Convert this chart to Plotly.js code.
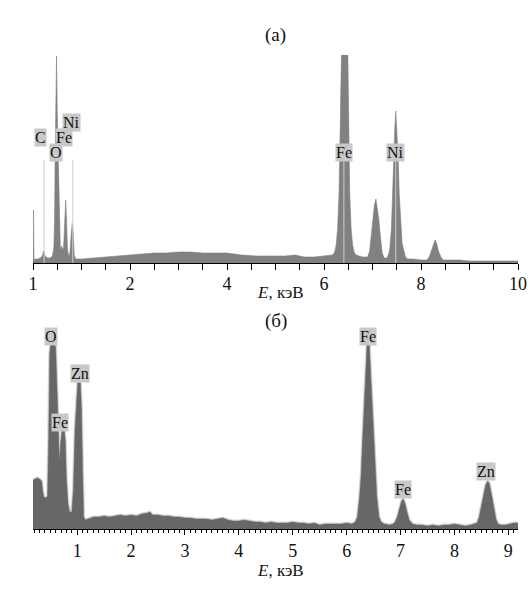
<!DOCTYPE html>
<html>
<head>
<meta charset="utf-8">
<script src="https://cdn.plot.ly/plotly-3.0.1.min.js"></script>
<style>html,body{margin:0;padding:0;background:#fff;}#chart{width:532px;height:593px;}</style>
</head>
<body>
<div id="chart"></div>
<script>
// ---- Panel (a): energy (keV) and counts (arb. units) ----
const energyA = [0.00,0.01,0.02,0.05,0.10,0.15,0.19,0.22,0.25,0.30,0.35,0.40,0.43,0.445,0.455,0.47,0.485,0.50,0.52,0.535,0.55,0.565,0.59,0.61,0.63,0.65,0.675,0.69,0.71,0.735,0.76,0.79,0.81,0.83,0.85,0.88,0.95,
  1.00,1.25,1.50,1.75,2.00,2.25,2.50,2.75,3.00,3.25,3.50,3.75,4.00,4.30,4.60,5.00,5.20,5.40,5.50,5.60,5.80,6.00,6.10,
  6.18,6.22,6.25,6.28,6.31,6.33,6.35,6.38,6.42,6.46,6.49,6.51,6.53,6.56,6.59,6.62,6.66,6.72,6.80,6.87,
  6.90,6.94,6.98,7.01,7.04,7.07,7.10,7.13,7.16,7.20,7.24,
  7.30,7.34,7.36,7.39,7.41,7.43,7.46,7.48,7.50,7.53,7.55,7.58,7.61,7.64,7.68,7.72,7.85,8.00,
  8.12,8.17,8.22,8.26,8.29,8.32,8.36,8.41,8.46,8.60,8.80,9.00,9.30,9.60,10.00];
const countsA = [3,53,3,4,4,5,7,12,7,5,5,7,15,45,100,140,207,150,110,80,25,12,17,14,15,40,63,45,15,6,10,30,40,30,8,4,4,
  4,5,6,7,8,9,10,10,11,11,10,10,10,8,7,7,7,8,7,6,6,7,7,
  8,11,18,34,70,125,215,330,380,330,215,125,70,34,18,11,8,7,6,6,
  6,12,32,48,58,64,56,44,28,10,5,
  5,10,16,35,65,105,135,152,135,105,70,38,20,14,6,4,4,3,
  3,6,13,20,23,20,12,6,3,3,3,2,2,2,2];

// KLM marker lines in panel (a)
const markerEnergyA = [0.23, 0.82, 6.41, 7.48];
const markerTopA = [103, 103, 103, 103];

// ---- Panel (б) ----
const energyB = [0.18,0.22,0.26,0.30,0.34,0.36,0.38,0.42,0.45,0.47,0.49,0.51,0.56,0.60,0.62,0.63,0.65,0.67,0.69,0.72,0.76,0.78,0.80,0.83,0.86,0.90,0.93,0.96,0.99,1.01,1.06,1.08,1.10,1.12,1.15,
  1.20,1.30,1.40,1.50,1.60,1.70,1.80,1.90,2.00,2.10,2.20,2.30,2.35,2.40,2.50,2.60,2.70,2.80,2.90,3.00,3.10,3.20,3.30,3.40,3.50,3.60,3.70,3.80,3.90,4.00,4.10,4.20,4.30,4.40,4.50,4.60,4.70,4.80,4.90,5.00,5.10,5.20,5.30,5.40,5.50,5.60,5.70,5.80,5.90,6.00,6.10,
  6.16,6.20,6.24,6.27,6.29,6.32,6.34,6.36,6.38,6.42,6.44,6.46,6.48,6.51,6.53,6.56,6.60,6.64,6.70,6.80,6.86,
  6.90,6.94,6.98,7.02,7.05,7.08,7.12,7.16,7.22,7.30,7.40,7.50,7.60,7.70,7.80,7.90,8.00,8.10,8.20,8.30,8.38,
  8.42,8.46,8.50,8.54,8.58,8.62,8.65,8.69,8.73,8.77,8.81,8.86,8.95,9.05,9.10,9.18];
const countsB = [49,50,51,50,48,38,32,31,33,90,175,186,186,182,140,116,100,66,85,99,99,88,50,25,17,17,40,100,135,146,146,120,60,12,9,
  10,12,12,13,12,13,14,13,14,13,15,16,17,14,14,13,13,12,12,11,11,10,10,10,9,10,11,9,8,8,9,8,7,7,6,7,6,6,6,7,6,6,5,6,4,5,5,5,5,6,5,
  7,12,32,55,82,119,140,152,186,186,152,140,119,82,55,32,12,7,5,4,5,
  7,12,20,28,30,26,17,9,5,4,4,3,4,3,4,4,5,4,3,4,5,
  6,12,22,34,44,48,45,34,20,10,5,4,4,5,6,6];

const tickValsA = [0,2,4,6,8,10];
const tickTextA = ['1','2','4','6','8','10'];

const serif = '"Liberation Serif", "Times New Roman", "DejaVu Serif", serif';

const traces = [
  {x: energyA, y: countsA, type:'scatter', mode:'lines', fill:'tozeroy',
   fillcolor:'#818181', line:{color:'#818181', width:0.6}, xaxis:'x', yaxis:'y', hoverinfo:'skip'},
  {x: energyB, y: countsB, type:'scatter', mode:'lines', fill:'tozeroy',
   fillcolor:'#d9d9d9', line:{color:'#d9d9d9', width:3}, xaxis:'x2', yaxis:'y2', hoverinfo:'skip'},
  {x: energyB, y: countsB, type:'scatter', mode:'lines', fill:'tozeroy',
   fillcolor:'#676767', line:{color:'#676767', width:0.5}, xaxis:'x2', yaxis:'y2', hoverinfo:'skip'}
];
markerEnergyA.forEach((e, i) => {
  traces.push({x:[e,e], y:[0, markerTopA[i]], type:'scatter', mode:'lines',
    line:{color:'#cdcdcd', width:1}, xaxis:'x', yaxis:'y', hoverinfo:'skip'});
});

function lab(text, x, y, ax) {
  return {text: text, x: x, y: y, xref: ax[0], yref: ax[1], showarrow:false,
    bgcolor:'#c8c8c8', borderpad:0, font:{family:serif, size:16, color:'#111'}};
}
const A = ['x','y'], B = ['x2','y2'];

function note(text, x, y, size) {
  return {text:text, xref:'paper', yref:'paper', x:x, y:y, xanchor:'center', yanchor:'middle',
    showarrow:false, font:{family:serif, size:size, color:'#111'}};
}

const layout = {
  width:532, height:593,
  margin:{l:33, r:14, t:20, b:20},
  paper_bgcolor:'#fff', plot_bgcolor:'#fff',
  showlegend:false,
  font:{family:serif, size:18, color:'#111'},
  xaxis:{domain:[0,1], anchor:'y', range:[0,10], tickmode:'array', tickvals:tickValsA, ticktext:tickTextA,
    ticks:'outside', ticklen:6, tickcolor:'#000', showline:true, linecolor:'#000', linewidth:1,
    showgrid:false, zeroline:false, minor:{dtick:0.5, ticks:'outside', ticklen:6, tickcolor:'#000'},
    ticklabelstandoff:-2, tickfont:{family:serif, size:18, color:'#111'}},
  yaxis:{domain:[0.5606,0.9367], anchor:'x', range:[0,208], visible:false, fixedrange:true},
  xaxis2:{domain:[0,1], anchor:'y2', range:[0.18,9.18], dtick:1, tick0:0,
    ticks:'outside', ticklen:5, tickcolor:'#000', showline:true, linecolor:'#000', linewidth:1,
    showgrid:false, zeroline:false, minor:{dtick:0.1, ticks:'outside', ticklen:3, tickcolor:'#000'},
    ticklabelstandoff:0, tickfont:{family:serif, size:18, color:'#111'}},
  yaxis2:{domain:[0.0796,0.4412], anchor:'x2', range:[0,200], visible:false, fixedrange:true},
  annotations:[
    note('(а)', 0.5, 0.9729, 19),
    note('(б)', 0.5, 0.4557, 19),
    note('<i>E</i>, кэВ', 0.51, 0.5080, 17),
    note('<i>E</i>, кэВ', 0.51, 0.0040, 17),
    lab('C', 0.155, 125, A), lab('Fe', 0.64, 125, A), lab('O', 0.47, 110, A), lab('Ni', 0.80, 140, A),
    lab('Fe', 6.41, 110, A), lab('Ni', 7.48, 110, A),
    lab('O', 0.52, 193, B), lab('Zn', 1.056, 156, B), lab('Fe', 0.685, 106, B),
    lab('Fe', 6.40, 193, B), lab('Fe', 7.05, 39, B), lab('Zn', 8.58, 57, B)
  ]
};

Plotly.newPlot('chart', traces, layout, {staticPlot:true, displayModeBar:false});
</script>
</body>
</html>
